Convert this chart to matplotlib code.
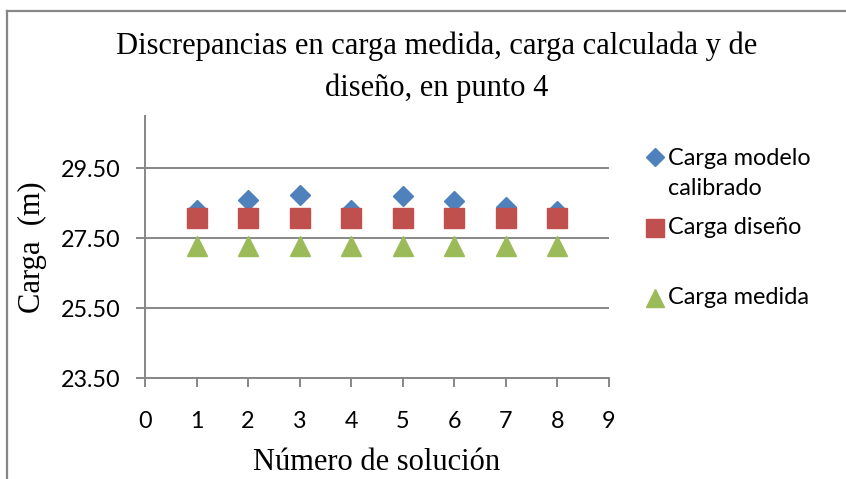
import numpy as np
import matplotlib.pyplot as plt
from matplotlib.lines import Line2D

# data
soluciones = [1, 2, 3, 4, 5, 6, 7, 8]
carga_modelo = [28.30, 28.61, 28.74, 28.32, 28.70, 28.58, 28.39, 28.29]
carga_diseno = [28.08, 28.08, 28.08, 28.08, 28.08, 28.08, 28.08, 28.08]
carga_medida = [27.28, 27.28, 27.28, 27.28, 27.28, 27.28, 27.28, 27.28]
y_ticks = [23.50, 25.50, 27.50, 29.50]
x_ticks = list(range(0, 10))

W, H = 846, 479
fig = plt.figure(figsize=(W / 100, H / 100), dpi=100)

GRAY = '#878787'
BLUE = '#4F81BD'
RED = '#C0504D'
GREEN = '#9BBB59'
SANS = 'Lato'
SERIF = 'Liberation Serif'


def fx(px):
    return px / W


def fy(py):
    return 1 - py / H


# outer frame (only top and left edges visible)
fig.add_artist(Line2D([fx(7), fx(846)], [fy(11), fy(11)], color=GRAY, lw=1.6,
                      transform=fig.transFigure))
fig.add_artist(Line2D([fx(7), fx(7)], [fy(11), fy(479)], color=GRAY, lw=1.6,
                      transform=fig.transFigure))

ax = fig.add_axes([fx(145), fy(378.3), fx(609) - fx(145), fy(116) - fy(378.3)])

ax.plot(soluciones, carga_modelo, linestyle='none', marker='D', ms=9.8,
        color=BLUE, mec=BLUE, zorder=3)
ax.plot(soluciones, carga_diseno, linestyle='none', marker='s', ms=13.9,
        color=RED, mec=RED, zorder=4)
ax.plot(soluciones, carga_medida, linestyle='none', marker='^', ms=14.2,
        color=GREEN, mec=GREEN, zorder=4)

ax.set_xlim(0, 9)
ax.set_ylim(23.5, 31.0)
ax.set_xticks(x_ticks)
ax.set_yticks(y_ticks)
ax.set_yticklabels([f'{v:.2f}' for v in y_ticks])
ax.tick_params(axis='both', direction='out', length=6.5, width=1.4, color=GRAY,
               labelsize=16.8, labelcolor='black')
ax.tick_params(axis='y', pad=11)
ax.tick_params(axis='x', pad=17)
for lab in ax.get_xticklabels() + ax.get_yticklabels():
    lab.set_fontfamily(SANS)

ax.grid(axis='y', color=GRAY, lw=1.4)
ax.set_axisbelow(True)
for s in ['top', 'right']:
    ax.spines[s].set_visible(False)
for s in ['left', 'bottom']:
    ax.spines[s].set_color(GRAY)
    ax.spines[s].set_linewidth(1.4)
    ax.spines[s].set_zorder(2.5)

# titles and axis labels
fig.text(fx(437), fy(67), 'Discrepancias en carga medida, carga calculada y de\ndiseño, en punto 4',
         ha='center', va='center', family=SERIF, fontsize=22, linespacing=1.55)
fig.text(fx(377), fy(463), 'Número de solución', ha='center', va='center',
         family=SERIF, fontsize=22)
fig.text(fx(32), fy(247), 'Carga  (m)', ha='center', va='center', rotation=90,
         family=SERIF, fontsize=22)

# legend drawn by hand to keep Excel's uneven spacing
legend_items = [
    ('D', 9.0, BLUE, 'Carga modelo\ncalibrado', 157, 173.5),
    ('s', 12.6, RED, 'Carga diseño', 228, 228),
    ('^', 12.6, GREEN, 'Carga medida', 298, 298),
]
for mk, ms, col, txt, ymark, ytext in legend_items:
    fig.add_artist(Line2D([fx(655)], [fy(ymark)], marker=mk, ms=ms, color=col,
                          mec=col, linestyle='none', transform=fig.transFigure))
    fig.text(fx(668), fy(ytext), txt, ha='left', va='center',
             family=SANS, fontsize=16.8, linespacing=1.5)

fig.savefig('out.png', dpi=100)
